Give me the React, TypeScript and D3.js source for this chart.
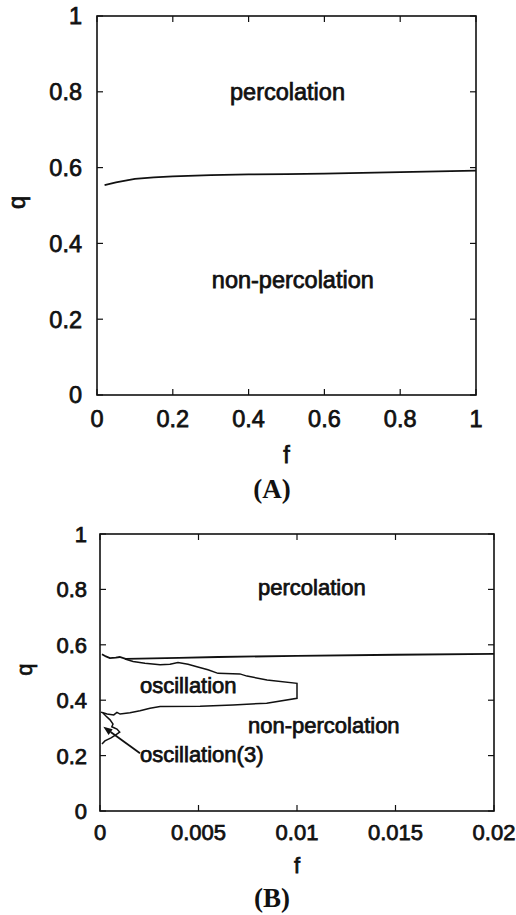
import * as React from 'react';
import * as d3 from 'd3';

// panel A: percolation threshold over the whole f range
const fA = [0.02, 0.05, 0.1, 0.15, 0.2, 0.3, 0.4, 0.5, 0.6, 0.7, 0.8, 0.9, 1.0];
const qA = [0.554, 0.561, 0.570, 0.574, 0.577, 0.580, 0.582, 0.583, 0.584, 0.586, 0.588, 0.590, 0.592];

// panel B: small f, percolation boundary
const fPerc = [0.0001, 0.0003, 0.0005, 0.0008, 0.001, 0.0013, 0.002, 0.004, 0.006, 0.01, 0.015, 0.02];
const qPerc = [0.566, 0.558, 0.552, 0.554, 0.556, 0.549, 0.550, 0.553, 0.556, 0.560, 0.564, 0.567];

// oscillation region outline (upper edge, right edge, lower edge)
const fOsc = [0.00127, 0.00168, 0.00228, 0.00305, 0.00355, 0.00396, 0.00447, 0.00492, 0.00548, 0.00599,
  0.0071, 0.00746, 0.00848, 0.01, 0.01, 0.00846, 0.00675, 0.00508, 0.00305, 0.00254, 0.00203, 0.00152,
  0.00102, 0.00086, 0.0007, 0.00036, 0.00015, 0.00005];
const qOsc = [0.549, 0.540, 0.533, 0.528, 0.530, 0.536, 0.530, 0.521, 0.510, 0.497,
  0.495, 0.487, 0.473, 0.461, 0.407, 0.389, 0.383, 0.378, 0.377, 0.371, 0.362, 0.355,
  0.350, 0.356, 0.347, 0.350, 0.355, 0.357];

// oscillation(3) pocket
const fOsc3 = [0.00015, 0.0003, 0.00051, 0.00066, 0.0006, 0.00086, 0.001, 0.0008, 0.00056, 0.00025, 0.0001];
const qOsc3 = [0.354, 0.343, 0.329, 0.314, 0.304, 0.296, 0.285, 0.275, 0.264, 0.253, 0.242];

// arrow from label to pocket: [tail, head]
const arrowF = [0.00203, 0.00017];
const arrowQ = [0.2085, 0.304];

const qTicks = [0, 0.2, 0.4, 0.6, 0.8, 1];
const qTickLabels = ['0', '0.2', '0.4', '0.6', '0.8', '1'];
const fTicksA = [0, 0.2, 0.4, 0.6, 0.8, 1];
const fTickLabelsA = ['0', '0.2', '0.4', '0.6', '0.8', '1'];
const fTicksB = [0, 0.005, 0.01, 0.015, 0.02];
const fTickLabelsB = ['0', '0.005', '0.01', '0.015', '0.02'];

const FONT = '"Liberation Sans", Arial, Helvetica, sans-serif';
const INK = '#111';

interface Note { text: string; f: number; q: number; }

const notesA: Note[] = [
  { text: 'percolation', f: 0.351, q: 0.778 },
  { text: 'non-percolation', f: 0.303, q: 0.282 },
];
const notesB: Note[] = [
  { text: 'percolation', f: 0.00802, q: 0.781 },
  { text: 'oscillation', f: 0.00203, q: 0.425 },
  { text: 'non-percolation', f: 0.00751, q: 0.282 },
  { text: 'oscillation(3)', f: 0.00203, q: 0.178 },
];

interface PanelProps {
  left: number; top: number; width: number; height: number;
  fMax: number; fTicks: number[]; fLabels: string[];
  fontSize: number; labelGap: number; xLabelDy: number; fLabelY: number; qLabelX: number;
  notes: Note[];
  children: (x: d3.ScaleLinear<number, number>, y: d3.ScaleLinear<number, number>) => React.ReactNode;
}

function Panel(p: PanelProps) {
  const x = d3.scaleLinear().domain([0, p.fMax]).range([p.left, p.left + p.width]);
  const y = d3.scaleLinear().domain([0, 1]).range([p.top + p.height, p.top]);
  const tk = 6;
  const textStyle = { fontFamily: FONT, fontSize: p.fontSize, fill: INK, stroke: INK, strokeWidth: 0.75 };
  return (
    <g>
      <rect x={p.left} y={p.top} width={p.width} height={p.height} fill="none" stroke={INK} strokeWidth={1.6} />
      {p.fTicks.map((t, i) => (
        <g key={'fx' + i}>
          <line x1={x(t)} x2={x(t)} y1={p.top + p.height} y2={p.top + p.height - tk} stroke={INK} strokeWidth={1.2} />
          <line x1={x(t)} x2={x(t)} y1={p.top} y2={p.top + tk} stroke={INK} strokeWidth={1.2} />
          <text x={x(t)} y={p.top + p.height + p.xLabelDy} textAnchor="middle" style={textStyle}>{p.fLabels[i]}</text>
        </g>
      ))}
      {qTicks.map((t, i) => (
        <g key={'qy' + i}>
          <line x1={p.left} x2={p.left + tk} y1={y(t)} y2={y(t)} stroke={INK} strokeWidth={1.2} />
          <line x1={p.left + p.width} x2={p.left + p.width - tk} y1={y(t)} y2={y(t)} stroke={INK} strokeWidth={1.2} />
          <text x={p.left - p.labelGap} y={y(t)} dy="0.36em" textAnchor="end" style={textStyle}>{qTickLabels[i]}</text>
        </g>
      ))}
      <text x={p.left + p.width / 2} y={p.fLabelY} textAnchor="middle" style={textStyle}>f</text>
      <text transform={`translate(${p.qLabelX},${p.top + p.height / 2 - 3}) rotate(-90)`} textAnchor="middle"
        dy="0.35em" style={textStyle}>q</text>
      {p.notes.map((n, i) => (
        <text key={'n' + i} x={x(n.f)} y={y(n.q)} style={textStyle}>{n.text}</text>
      ))}
      {p.children(x, y)}
    </g>
  );
}

export default function App() {
  const lineOf = (fs: number[], qs: number[], x: d3.ScaleLinear<number, number>, y: d3.ScaleLinear<number, number>) =>
    d3.line<number>().x((_, i) => x(fs[i])).y((_, i) => y(qs[i]))(fs) || '';

  return (
    <div style={{ position: 'absolute', left: 0, top: 0 }}>
      <svg width={516} height={915} style={{ display: 'block', background: '#fff' }}>
        <Panel left={97} top={16} width={379} height={379} fMax={1} fTicks={fTicksA} fLabels={fTickLabelsA}
          fontSize={23.5} labelGap={15} xLabelDy={32} fLabelY={463} qLabelX={17} notes={notesA}>
          {(x, y) => (
            <path d={lineOf(fA, qA, x, y)} fill="none" stroke={INK} strokeWidth={1.8} />
          )}
        </Panel>
        <text x={272} y={498} textAnchor="middle"
          style={{ fontFamily: '"Liberation Serif", "Times New Roman", serif', fontWeight: 'bold', fontSize: 27, fill: INK }}>(A)</text>

        <Panel left={100} top={534} width={394} height={277} fMax={0.02} fTicks={fTicksB} fLabels={fTickLabelsB}
          fontSize={22} labelGap={13} xLabelDy={29} fLabelY={873} qLabelX={24} notes={notesB}>
          {(x, y) => {
            const ax0 = x(arrowF[0]), ay0 = y(arrowQ[0]), ax1 = x(arrowF[1]), ay1 = y(arrowQ[1]);
            const ang = Math.atan2(ay1 - ay0, ax1 - ax0);
            const hl = 9, hw = 3.5;
            const bx = ax1 - hl * Math.cos(ang), by = ay1 - hl * Math.sin(ang);
            const head = [
              [ax1, ay1],
              [bx + hw * Math.sin(ang), by - hw * Math.cos(ang)],
              [bx - hw * Math.sin(ang), by + hw * Math.cos(ang)],
            ].map(pt => pt.join(',')).join(' ');
            return (
              <g>
                <path d={lineOf(fPerc, qPerc, x, y)} fill="none" stroke={INK} strokeWidth={1.8} />
                <path d={lineOf(fOsc, qOsc, x, y)} fill="none" stroke={INK} strokeWidth={1.5} />
                <path d={lineOf(fOsc3, qOsc3, x, y)} fill="none" stroke={INK} strokeWidth={1.5} />
                <line x1={ax0} y1={ay0} x2={bx} y2={by} stroke={INK} strokeWidth={1.8} />
                <polygon points={head} fill={INK} />
              </g>
            );
          }}
        </Panel>
        <text x={272} y={907} textAnchor="middle"
          style={{ fontFamily: '"Liberation Serif", "Times New Roman", serif', fontWeight: 'bold', fontSize: 27, fill: INK }}>(B)</text>
      </svg>
    </div>
  );
}
